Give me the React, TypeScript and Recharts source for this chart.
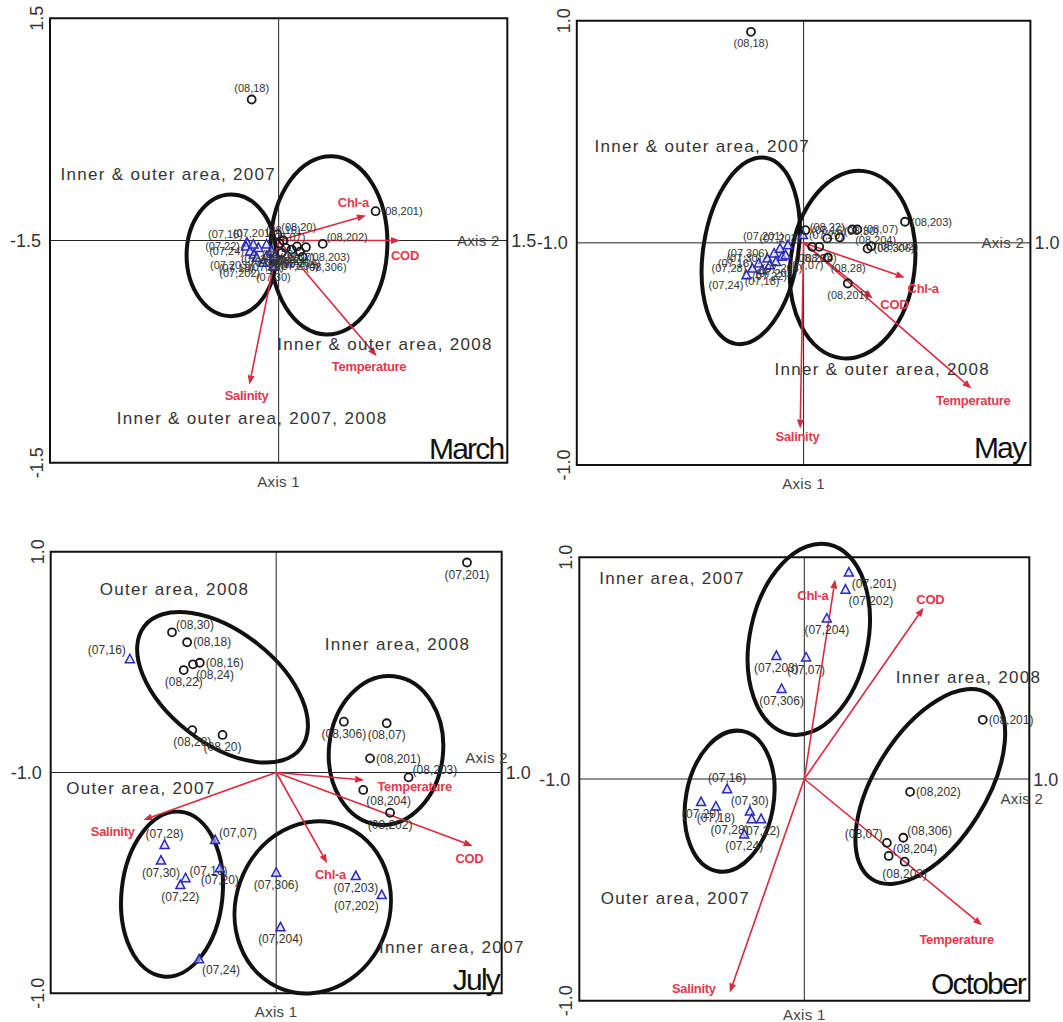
import React from 'react';
import { ScatterChart, Scatter, XAxis, YAxis, ReferenceLine, ReferenceArea } from 'recharts';

type Pt = { x: number; y: number; label: string };
type Side = 'n' | 's' | 'e' | 'w' | 'ne' | 'se' | 'sw' | 'nw';
type Ell = { x: number; y: number; rx: number; ry: number; tilt: number };
type Note = { x: number; y: number; text: string };

const FONT = '"Liberation Sans", Arial, sans-serif';
const RED = '#d92b40';
const RED_TEXT = '#e5384e';

// shared axis ticks
const wideTicks = [-1.5, -1, -0.5, 0, 0.5, 1, 1.5];
const unitTicks = [-1, -0.5, 0, 0.5, 1];
const wideEnds = ['-1.5', '1.5'];
const unitEnds = ['-1.0', '1.0'];

// ---------- March ----------
const marchCircles: Pt[] = [
  { x: -0.177, y: 0.952, label: '(08,18)' },
  { x: 0.636, y: 0.198, label: '(08,201)' },
  { x: 0.289, y: -0.023, label: '(08,202)' },
  { x: 0.179, y: -0.045, label: '(08,203)' },
  { x: 0.157, y: -0.11, label: '(08,306)' },
  { x: 0.085, y: -0.061, label: '(08,24)' },
  { x: 0.048, y: -0.05, label: '(08,22)' },
  { x: 0.02, y: -0.083, label: '(08,30)' },
  { x: -0.009, y: 0.041, label: '(08,20)' },
  { x: 0.005, y: -0.02, label: '(08,28)' },
  { x: 0.03, y: 0.0, label: '(08,16)' },
  { x: 0.12, y: -0.04, label: '(08,07)' },
  { x: 0.14, y: -0.075, label: '(08,204)' },
];
const marchTriangles: Pt[] = [
  { x: -0.208, y: -0.014, label: '(07,16)' },
  { x: -0.214, y: -0.041, label: '(07,22)' },
  { x: -0.188, y: -0.074, label: '(07,24)' },
  { x: -0.162, y: -0.095, label: '(07,203)' },
  { x: -0.144, y: -0.117, label: '(07,18)' },
  { x: -0.101, y: -0.151, label: '(07,202)' },
  { x: -0.035, y: -0.173, label: '(07,30)' },
  { x: -0.079, y: -0.106, label: '(07,28)' },
  { x: -0.133, y: -0.05, label: '(07,20)' },
  { x: -0.079, y: -0.027, label: '(07,07)' },
  { x: -0.046, y: -0.072, label: '(07,306)' },
  { x: -0.166, y: -0.027, label: '(07,201)' },
  { x: -0.024, y: -0.106, label: '(07,204)' },
];
const marchSides: Record<string, Side> = {
  '(08,18)': 'n', '(08,201)': 'e', '(08,202)': 'ne', '(08,203)': 'se', '(08,306)': 'se',
  '(08,24)': 's', '(08,22)': 's', '(08,30)': 's', '(08,20)': 'ne', '(08,28)': 's',
  '(08,16)': 'n', '(08,07)': 's', '(08,204)': 's',
  '(07,16)': 'nw', '(07,22)': 'w', '(07,24)': 'w', '(07,203)': 'sw', '(07,18)': 'sw',
  '(07,202)': 'sw', '(07,30)': 's', '(07,28)': 's', '(07,20)': 's', '(07,07)': 'ne',
  '(07,306)': 's', '(07,201)': 'n', '(07,204)': 'se',
};
const marchEllipses: Ell[] = [
  { x: -0.311, y: -0.1, rx: 0.293, ry: 0.411, tilt: 0 },
  { x: 0.33, y: -0.033, rx: 0.383, ry: 0.602, tilt: 2 },
];
const marchVectors: Note[] = [
  { x: 0.573, y: 0.169, text: 'Chl-a' },
  { x: 0.796, y: 0, text: 'COD' },
  { x: 0.643, y: -0.781, text: 'Temperature' },
  { x: -0.192, y: -0.972, text: 'Salinity' },
];
const marchVectorLabels: Note[] = [
  { x: 0.49, y: 0.254, text: 'Chl-a' },
  { x: 0.829, y: -0.101, text: 'COD' },
  { x: 0.593, y: -0.848, text: 'Temperature' },
  { x: -0.21, y: -1.047, text: 'Salinity' },
];
const marchGroups: Note[] = [
  { x: -0.724, y: 0.452, text: 'Inner & outer area, 2007' },
  { x: 0.698, y: -0.702, text: 'Inner & outer area, 2008' },
  { x: -0.174, y: -1.197, text: 'Inner & outer area, 2007, 2008' },
];

// ---------- May ----------
const mayCircles: Pt[] = [
  { x: -0.232, y: 0.95, label: '(08,18)' },
  { x: 0.447, y: 0.095, label: '(08,203)' },
  { x: 0.195, y: -0.183, label: '(08,201)' },
  { x: 0.214, y: 0.06, label: '(08,204)' },
  { x: 0.237, y: 0.06, label: '(08,07)' },
  { x: 0.16, y: 0.024, label: '(08,30)' },
  { x: 0.104, y: 0.02, label: '(08,22)' },
  { x: 0.069, y: -0.018, label: '(08,24)' },
  { x: 0.038, y: -0.018, label: '(08,20)' },
  { x: 0.282, y: -0.026, label: '(08,306)' },
  { x: 0.298, y: -0.015, label: '(08,202)' },
  { x: 0.107, y: -0.066, label: '(08,28)' },
  { x: 0.008, y: 0.057, label: '(08,16)' },
];
const mayTriangles: Pt[] = [
  { x: -0.252, y: -0.146, label: '(07,24)' },
  { x: -0.226, y: -0.116, label: '(07,28)' },
  { x: -0.198, y: -0.093, label: '(07,16)' },
  { x: -0.183, y: -0.123, label: '(07,18)' },
  { x: -0.16, y: -0.071, label: '(07,30)' },
  { x: -0.15, y: -0.101, label: '(07,22)' },
  { x: -0.13, y: -0.048, label: '(07,306)' },
  { x: -0.122, y: -0.086, label: '(07,202)' },
  { x: -0.104, y: -0.026, label: '(07,203)' },
  { x: -0.095, y: -0.063, label: '(07,204)' },
  { x: -0.079, y: -0.056, label: '(07,07)' },
  { x: -0.069, y: -0.011, label: '(07,201)' },
  { x: -0.003, y: 0.035, label: '(07,20)' },
];
const maySides: Record<string, Side> = {
  '(08,18)': 's', '(08,203)': 'e', '(08,201)': 's', '(08,204)': 'se', '(08,07)': 'e',
  '(08,30)': 'ne', '(08,22)': 'n', '(08,24)': 's', '(08,20)': 's', '(08,306)': 'e',
  '(08,202)': 'e', '(08,28)': 'se', '(08,16)': 'e',
  '(07,24)': 'sw', '(07,28)': 'w', '(07,16)': 'w', '(07,18)': 's', '(07,30)': 'w',
  '(07,22)': 's', '(07,306)': 'w', '(07,202)': 's', '(07,203)': 'n', '(07,204)': 's',
  '(07,07)': 'se', '(07,201)': 'nw', '(07,20)': 'e',
};
const mayEllipses: Ell[] = [
  { x: -0.233, y: -0.036, rx: 0.209, ry: 0.424, tilt: 9 },
  { x: 0.216, y: -0.098, rx: 0.274, ry: 0.424, tilt: 7 },
];
const mayVectors: Note[] = [
  { x: 0.446, y: -0.156, text: 'Chl-a' },
  { x: 0.305, y: -0.25, text: 'COD' },
  { x: 0.74, y: -0.656, text: 'Temperature' },
  { x: -0.015, y: -0.836, text: 'Salinity' },
];
const mayVectorLabels: Note[] = [
  { x: 0.527, y: -0.206, text: 'Chl-a' },
  { x: 0.4, y: -0.278, text: 'COD' },
  { x: 0.748, y: -0.708, text: 'Temperature' },
  { x: -0.027, y: -0.873, text: 'Salinity' },
];
const mayGroups: Note[] = [
  { x: -0.447, y: 0.437, text: 'Inner & outer area, 2007' },
  { x: 0.347, y: -0.566, text: 'Inner & outer area, 2008' },
];

// ---------- July ----------
const julyCircles: Pt[] = [
  { x: 0.846, y: 0.951, label: '(07,201)' },
  { x: -0.462, y: 0.635, label: '(08,30)' },
  { x: -0.395, y: 0.59, label: '(08,18)' },
  { x: -0.339, y: 0.497, label: '(08,16)' },
  { x: -0.369, y: 0.49, label: '(08,24)' },
  { x: -0.41, y: 0.464, label: '(08,22)' },
  { x: -0.372, y: 0.192, label: '(08,28)' },
  { x: -0.238, y: 0.17, label: '(08,20)' },
  { x: 0.3, y: 0.23, label: '(08,306)' },
  { x: 0.49, y: 0.223, label: '(08,07)' },
  { x: 0.416, y: 0.064, label: '(08,201)' },
  { x: 0.587, y: -0.022, label: '(08,203)' },
  { x: 0.386, y: -0.079, label: '(08,204)' },
  { x: 0.505, y: -0.182, label: '(08,202)' },
];
const julyTriangles: Pt[] = [
  { x: -0.649, y: 0.513, label: '(07,16)' },
  { x: -0.495, y: -0.328, label: '(07,28)' },
  { x: -0.271, y: -0.306, label: '(07,07)' },
  { x: -0.511, y: -0.399, label: '(07,30)' },
  { x: -0.402, y: -0.479, label: '(07,18)' },
  { x: -0.425, y: -0.51, label: '(07,22)' },
  { x: -0.25, y: -0.434, label: '(07,20)' },
  { x: 0, y: -0.454, label: '(07,306)' },
  { x: 0.353, y: -0.469, label: '(07,203)' },
  { x: 0.468, y: -0.555, label: '(07,202)' },
  { x: 0.019, y: -0.701, label: '(07,204)' },
  { x: -0.342, y: -0.846, label: '(07,24)' },
];
const julySides: Record<string, Side> = {
  '(07,201)': 's', '(08,30)': 'ne', '(08,18)': 'e', '(08,16)': 'e', '(08,24)': 'se',
  '(08,22)': 's', '(08,28)': 's', '(08,20)': 's', '(08,306)': 's', '(08,07)': 's',
  '(08,201)': 'e', '(08,203)': 'ne', '(08,204)': 'se', '(08,202)': 's',
  '(07,16)': 'nw', '(07,28)': 'n', '(07,07)': 'ne', '(07,30)': 's', '(07,18)': 'ne',
  '(07,22)': 's', '(07,20)': 's', '(07,306)': 's', '(07,203)': 's', '(07,202)': 'sw',
  '(07,204)': 's', '(07,24)': 'se',
};
const julyEllipses: Ell[] = [
  { x: -0.238, y: 0.386, rx: 0.44, ry: 0.253, tilt: 38 },
  { x: 0.487, y: 0.1, rx: 0.253, ry: 0.338, tilt: 6 },
  { x: -0.462, y: -0.551, rx: 0.224, ry: 0.375, tilt: 6 },
  { x: 0.162, y: -0.611, rx: 0.341, ry: 0.395, tilt: 20 },
];
const julyVectors: Note[] = [
  { x: 0.39, y: -0.034, text: 'Temperature' },
  { x: 0.871, y: -0.333, text: 'COD' },
  { x: 0.226, y: -0.411, text: 'Chl-a' },
  { x: -0.589, y: -0.215, text: 'Salinity' },
];
const julyVectorLabels: Note[] = [
  { x: 0.614, y: -0.064, text: 'Temperature' },
  { x: 0.857, y: -0.389, text: 'COD' },
  { x: 0.241, y: -0.46, text: 'Chl-a' },
  { x: -0.725, y: -0.268, text: 'Salinity' },
];
const julyGroups: Note[] = [
  { x: -0.451, y: 0.83, text: 'Outer area, 2008' },
  { x: 0.538, y: 0.582, text: 'Inner area, 2008' },
  { x: -0.6, y: -0.072, text: 'Outer area, 2007' },
  { x: 0.779, y: -0.789, text: 'Inner area, 2007' },
];

// ---------- October ----------
const octCircles: Pt[] = [
  { x: 0.793, y: 0.267, label: '(08,201)' },
  { x: 0.47, y: -0.058, label: '(08,202)' },
  { x: 0.44, y: -0.265, label: '(08,306)' },
  { x: 0.367, y: -0.288, label: '(08,07)' },
  { x: 0.375, y: -0.347, label: '(08,204)' },
  { x: 0.446, y: -0.373, label: '(08,203)' },
];
const octTriangles: Pt[] = [
  { x: 0.198, y: 0.931, label: '(07,201)' },
  { x: 0.183, y: 0.854, label: '(07,202)' },
  { x: 0.1, y: 0.724, label: '(07,204)' },
  { x: -0.124, y: 0.555, label: '(07,203)' },
  { x: 0.008, y: 0.548, label: '(07,07)' },
  { x: -0.101, y: 0.406, label: '(07,306)' },
  { x: -0.343, y: -0.046, label: '(07,16)' },
  { x: -0.459, y: -0.104, label: '(07,20)' },
  { x: -0.393, y: -0.124, label: '(07,18)' },
  { x: -0.242, y: -0.147, label: '(07,30)' },
  { x: -0.234, y: -0.181, label: '(07,28)' },
  { x: -0.192, y: -0.181, label: '(07,22)' },
  { x: -0.267, y: -0.25, label: '(07,24)' },
];
const octSides: Record<string, Side> = {
  '(07,201)': 'se', '(07,202)': 'se', '(07,204)': 's', '(07,203)': 's', '(07,07)': 's',
  '(07,306)': 's', '(07,16)': 'n', '(07,20)': 's', '(07,18)': 's', '(07,30)': 'n',
  '(07,28)': 'sw', '(07,22)': 's', '(07,24)': 's',
  '(08,201)': 'e', '(08,202)': 'e', '(08,306)': 'ne', '(08,07)': 'nw', '(08,204)': 'ne',
  '(08,203)': 's',
};
const octEllipses: Ell[] = [
  { x: 0.02, y: 0.63, rx: 0.262, ry: 0.437, tilt: 12 },
  { x: -0.332, y: -0.1, rx: 0.195, ry: 0.321, tilt: 10 },
  { x: 0.56, y: -0.034, rx: 0.248, ry: 0.494, tilt: 32 },
];
const octVectors: Note[] = [
  { x: 0.137, y: 0.9, text: 'Chl-a' },
  { x: 0.53, y: 0.773, text: 'COD' },
  { x: 0.79, y: -0.66, text: 'Temperature' },
  { x: -0.331, y: -0.963, text: 'Salinity' },
];
const octVectorLabels: Note[] = [
  { x: 0.038, y: 0.828, text: 'Chl-a' },
  { x: 0.56, y: 0.808, text: 'COD' },
  { x: 0.677, y: -0.725, text: 'Temperature' },
  { x: -0.491, y: -0.945, text: 'Salinity' },
];
const octGroups: Note[] = [
  { x: -0.588, y: 0.905, text: 'Inner area, 2007' },
  { x: 0.73, y: 0.459, text: 'Inner area, 2008' },
  { x: -0.573, y: -0.537, text: 'Outer area, 2007' },
];

const labelPos = (side: Side, cx: number, cy: number, f: number) => {
  switch (side) {
    case 'n': return { x: cx, y: cy - 7, a: 'middle' };
    case 's': return { x: cx, y: cy + 4 + f, a: 'middle' };
    case 'e': return { x: cx + 6, y: cy + f * 0.35, a: 'start' };
    case 'w': return { x: cx - 6, y: cy + f * 0.35, a: 'end' };
    case 'ne': return { x: cx + 4, y: cy - 3, a: 'start' };
    case 'se': return { x: cx + 3, y: cy + 3 + f, a: 'start' };
    case 'sw': return { x: cx - 3, y: cy + 3 + f, a: 'end' };
    default: return { x: cx - 4, y: cy - 5, a: 'end' };
  }
};

const pointLabel = (p: any, sides: Record<string, Side>, f: number) => {
  const label = p.payload.label;
  if (!label) return null;
  const pos = labelPos(sides[label] || 's', p.cx, p.cy, f);
  return (
    <text x={pos.x} y={pos.y} textAnchor={pos.a} fontSize={f} fill="#333" fontFamily={FONT}>
      {label}
    </text>
  );
};

const ellipseShape = (tilt: number) => (p: any) => {
  const cx = p.x + p.width / 2;
  const cy = p.y + p.height / 2;
  return (
    <ellipse
      cx={cx}
      cy={cy}
      rx={Math.abs(p.width) / 2}
      ry={Math.abs(p.height) / 2}
      transform={`rotate(${tilt} ${cx} ${cy})`}
      fill="none"
      stroke="#111"
      strokeWidth={4}
    />
  );
};

const arrowShape = (p: any) => {
  const { x1, y1, x2, y2 } = p;
  const a = Math.atan2(y2 - y1, x2 - x1);
  const len = 9;
  const w = 3.5;
  const bx = x2 - len * Math.cos(a);
  const by = y2 - len * Math.sin(a);
  const head = `${x2},${y2} ${bx - w * Math.sin(a)},${by + w * Math.cos(a)} ${bx + w * Math.sin(a)},${by - w * Math.cos(a)}`;
  return (
    <g>
      <line x1={x1} y1={y1} x2={bx} y2={by} stroke={RED} strokeWidth={1.6} />
      <polygon points={head} fill={RED} />
    </g>
  );
};

const makeAxisMarkShape = (axis1Gap: number) => (p: any) => {
  const { cx, cy, payload } = p;
  const common = { fontFamily: FONT, fill: '#333' };
  switch (payload.kind) {
    case 'left':
      return <text x={cx - 9} y={cy + 6.5} textAnchor="end" fontSize={18} {...common}>{payload.text}</text>;
    case 'right':
      return <text x={cx + 4} y={cy + 6.5} textAnchor="start" fontSize={18} {...common}>{payload.text}</text>;
    case 'top':
    case 'bottom': {
      const x = cx - 13;
      return (
        <text x={x} y={cy} transform={`rotate(-90 ${x} ${cy})`} textAnchor="middle" dominantBaseline="central" fontSize={18} {...common}>
          {payload.text}
        </text>
      );
    }
    case 'axis1':
      return <text x={cx} y={cy + axis1Gap} textAnchor="middle" fontSize={15} letterSpacing={0.3} fontFamily={FONT} fill="#444">{payload.text}</text>;
    default:
      return <text x={cx} y={cy + 5} textAnchor="middle" fontSize={15} letterSpacing={0.3} fontFamily={FONT} fill="#444">{payload.text}</text>;
  }
};

const groupShape = (p: any) => (
  <text x={p.cx} y={p.cy + 6} textAnchor="middle" fontSize={17} letterSpacing={1.3} fill="#333" fontFamily={FONT}>
    {p.payload.text}
  </text>
);

const vectorLabelShape = (p: any) => (
  <text x={p.cx} y={p.cy + 4.5} textAnchor="middle" fontSize={13} fontWeight="bold" letterSpacing={-0.3} fill={RED_TEXT} fontFamily={FONT}>
    {p.payload.text}
  </text>
);

const monthShape = (p: any) => (
  <text x={p.cx} y={p.cy + 11} textAnchor="end" fontSize={30} letterSpacing={-1.8} fill="#111" fontFamily={FONT}>
    {p.payload.text}
  </text>
);

interface PanelProps {
  D: number;
  ticks: number[];
  ends: string[];
  circles: Pt[];
  triangles: Pt[];
  sides: Record<string, Side>;
  ellipses: Ell[];
  vectors: Note[];
  vectorLabels: Note[];
  groups: Note[];
  month: Note;
  axis2: Note;
  left: number;
  top: number;
  width: number;
  height: number;
  margin: { top: number; right: number; bottom: number; left: number };
  labelSize: number;
  axis1Gap?: number;
}

const Panel = (props: PanelProps) => {
  const { D, ticks, ends, circles, triangles, sides, ellipses, vectors, vectorLabels, groups, month, axis2, labelSize } = props;

  const axisMarks = [
    { x: -D, y: 0, text: ends[0], kind: 'left' },
    { x: D, y: 0, text: ends[1], kind: 'right' },
    { x: -D, y: D, text: ends[1], kind: 'top' },
    { x: -D, y: -D, text: ends[0], kind: 'bottom' },
    { x: 0, y: -D, text: 'Axis 1', kind: 'axis1' },
    { x: axis2.x, y: axis2.y, text: axis2.text, kind: 'axis2' },
  ];

  const circleShape = (p: any) => (
    <g>
      <circle cx={p.cx} cy={p.cy} r={4} fill="none" stroke="#1a1a1a" strokeWidth={1.8} />
      {pointLabel(p, sides, labelSize)}
    </g>
  );

  const triangleShape = (p: any) => (
    <g>
      <polygon
        points={`${p.cx},${p.cy - 5} ${p.cx - 4.5},${p.cy + 3.5} ${p.cx + 4.5},${p.cy + 3.5}`}
        fill="#d6d6ff"
        fillOpacity={0.6}
        stroke="#2b2bb5"
        strokeWidth={1.5}
      />
      {pointLabel(p, sides, labelSize)}
    </g>
  );

  return (
    <div style={{ position: 'absolute', left: props.left, top: props.top }}>
      <ScatterChart width={props.width} height={props.height} margin={props.margin}>
        <XAxis
          type="number"
          dataKey="x"
          domain={[-D, D]}
          ticks={ticks}
          tick={false}
          tickSize={4}
          axisLine={false}
          tickLine={{ stroke: '#111' }}
          height={0}
        />
        <YAxis
          type="number"
          dataKey="y"
          domain={[-D, D]}
          ticks={ticks}
          tick={false}
          tickSize={4}
          axisLine={false}
          tickLine={{ stroke: '#111' }}
          width={0}
        />
        <ReferenceLine x={0} stroke="#222" strokeWidth={1} />
        <ReferenceLine y={0} stroke="#222" strokeWidth={1} />
        <ReferenceArea x1={-D} x2={D} y1={-D} y2={D} fill="none" stroke="#111" strokeWidth={2} ifOverflow="visible" />
        {ellipses.map((e, i) => (
          <ReferenceArea
            key={`e${i}`}
            x1={e.x - e.rx}
            x2={e.x + e.rx}
            y1={e.y - e.ry}
            y2={e.y + e.ry}
            ifOverflow="visible"
            shape={ellipseShape(e.tilt)}
          />
        ))}
        {vectors.map((v) => (
          <ReferenceLine
            key={v.text}
            segment={[{ x: 0, y: 0 }, { x: v.x, y: v.y }]}
            ifOverflow="visible"
            shape={arrowShape}
          />
        ))}
        <Scatter data={groups} shape={groupShape} isAnimationActive={false} />
        <Scatter data={vectorLabels} shape={vectorLabelShape} isAnimationActive={false} />
        <Scatter data={triangles} shape={triangleShape} isAnimationActive={false} />
        <Scatter data={circles} shape={circleShape} isAnimationActive={false} />
        <Scatter data={[month]} shape={monthShape} isAnimationActive={false} />
        <Scatter data={axisMarks} shape={makeAxisMarkShape(props.axis1Gap ?? 24)} isAnimationActive={false} />
      </ScatterChart>
    </div>
  );
};

export default function App() {
  return (
    <div style={{ position: 'absolute', left: 0, top: 0, width: 1063, height: 1022, background: '#fff', overflow: 'hidden' }}>
      <Panel
        D={1.5}
        ticks={wideTicks}
        ends={wideEnds}
        circles={marchCircles}
        triangles={marchTriangles}
        sides={marchSides}
        ellipses={marchEllipses}
        vectors={marchVectors}
        vectorLabels={marchVectorLabels}
        groups={marchGroups}
        month={{ x: 1.474, y: -1.4, text: 'March' }}
        axis2={{ x: 1.31, y: 0, text: 'Axis 2' }}
        left={0}
        top={0}
        width={545}
        height={505}
        margin={{ top: 18.3, right: 37.7, bottom: 42.3, left: 50 }}
        labelSize={11}
      />
      <Panel
        D={1}
        ticks={unitTicks}
        ends={unitEnds}
        circles={mayCircles}
        triangles={mayTriangles}
        sides={maySides}
        ellipses={mayEllipses}
        vectors={mayVectors}
        vectorLabels={mayVectorLabels}
        groups={mayGroups}
        month={{ x: 0.977, y: -0.918, text: 'May' }}
        axis2={{ x: 0.878, y: 0, text: 'Axis 2' }}
        left={530}
        top={0}
        width={533}
        height={505}
        margin={{ top: 20.7, right: 32.6, bottom: 40, left: 46.8 }}
        labelSize={11}
      />
      <Panel
        D={1}
        ticks={unitTicks}
        ends={unitEnds}
        circles={julyCircles}
        triangles={julyTriangles}
        sides={julySides}
        ellipses={julyEllipses}
        vectors={julyVectors}
        vectorLabels={julyVectorLabels}
        groups={julyGroups}
        month={{ x: 0.988, y: -0.933, text: 'July' }}
        axis2={{ x: 0.933, y: 0.064, text: 'Axis 2' }}
        left={0}
        top={510}
        width={545}
        height={512}
        margin={{ top: 41.7, right: 43.3, bottom: 28.7, left: 50.7 }}
        labelSize={12}
      />
      <Panel
        D={1}
        ticks={unitTicks}
        ends={unitEnds}
        circles={octCircles}
        triangles={octTriangles}
        sides={octSides}
        ellipses={octEllipses}
        vectors={octVectors}
        vectorLabels={octVectorLabels}
        groups={octGroups}
        month={{ x: 0.981, y: -0.918, text: 'October' }}
        axis2={{ x: 0.967, y: -0.092, text: 'Axis 2' }}
        left={530}
        top={510}
        width={533}
        height={512}
        margin={{ top: 47.3, right: 33.7, bottom: 21.3, left: 49.3 }}
        labelSize={12}
        axis1Gap={19}
      />
    </div>
  );
}
